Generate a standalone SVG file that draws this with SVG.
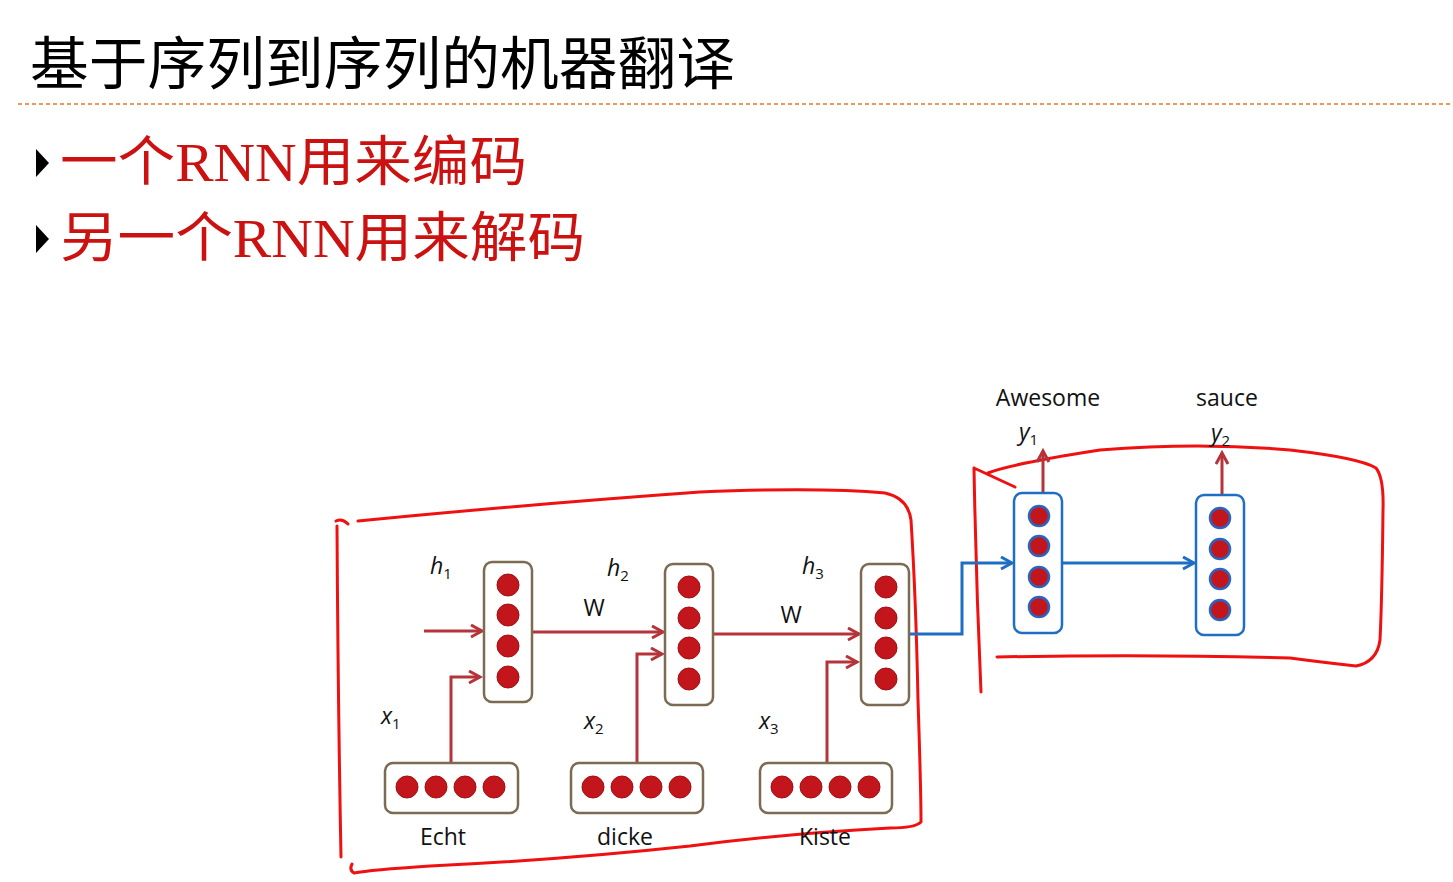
<svg xmlns="http://www.w3.org/2000/svg" width="1453" height="882" viewBox="0 0 1453 882">
<defs>
<style>
.title{font-family:"Noto Sans CJK SC","Noto Sans",sans-serif;font-size:57px;fill:#000}
.bul{font-family:"Liberation Serif","Noto Sans CJK SC",serif;font-size:54px;fill:#cc1111}
.lbl{font-family:"Open Sans","Lato",sans-serif;font-size:23px;fill:#111}
.it{font-family:"Open Sans","Lato",sans-serif;font-size:23px;font-style:italic;fill:#111}
.sub{font-size:15px;font-style:normal}
.hbox{fill:#fff;stroke:#7b6b52;stroke-width:2.5}
.dbox{fill:#fff;stroke:#1e6ec4;stroke-width:2.5}
.dot{fill:#c3161c;stroke:#a01014;stroke-width:1}
.ddot{fill:#c3161c;stroke:#2a64c0;stroke-width:2.5}
.ra{fill:none;stroke:#b5343a;stroke-width:3}
.ba{fill:none;stroke:#1e6ec4;stroke-width:3}
.pen{fill:none;stroke:#f01010;stroke-width:3;stroke-linecap:round;stroke-linejoin:round}
</style>
<marker id="mr" markerUnits="userSpaceOnUse" markerWidth="16" markerHeight="16" refX="12" refY="7" orient="auto">
<path d="M1,1 L12,7 L1,13" fill="none" stroke="#b5343a" stroke-width="3"/>
</marker>
<marker id="mb" markerUnits="userSpaceOnUse" markerWidth="16" markerHeight="16" refX="12" refY="7" orient="auto">
<path d="M1,1 L12,7 L1,13" fill="none" stroke="#1e6ec4" stroke-width="3"/>
</marker>
</defs>
<rect width="1453" height="882" fill="#fff"/>

<g id="header">
<text class="title" x="30" y="84" textLength="705" lengthAdjust="spacingAndGlyphs">基于序列到序列的机器翻译</text>
<line x1="18" y1="104" x2="1453" y2="104" stroke="#e07a2a" stroke-width="1.5" stroke-dasharray="4,3"/>
<path d="M36,149 L49,163 L36,177 Z" fill="#000"/>
<text class="bul" x="60" y="181" textLength="467" lengthAdjust="spacingAndGlyphs">一个RNN用来编码</text>
<path d="M36,225 L49,239 L36,253 Z" fill="#000"/>
<text class="bul" x="60" y="257" textLength="525" lengthAdjust="spacingAndGlyphs">另一个RNN用来解码</text>
</g>

<g id="pen-outlines">
<path class="pen" d="M336,521 Q342,518 348,524 M337,526 Q338,700 341,857"/>
<path class="pen" d="M358,521 Q520,505 700,492 Q820,487 885,493 Q908,498 911,520 Q916,600 918,700 Q921,790 921,822 Q915,828 890,828 Q780,834 690,846 Q560,860 430,866 Q370,870 354,873 Q349,870 352,864"/>
<path class="pen" d="M974,468 Q976,580 981,692 M974,468 L1015,487"/>
<path class="pen" d="M988,473 Q1010,464 1100,450 Q1200,442 1290,450 Q1360,458 1376,468 Q1384,478 1383,510 Q1382,600 1380,640 Q1377,662 1356,666 Q1320,662 1290,658 Q1150,654 997,657"/>
</g>

<g id="connectors">
<line class="ra" x1="424" y1="631" x2="482" y2="631" marker-end="url(#mr)"/>
<polyline class="ra" points="451,763 451,677 480,677" marker-end="url(#mr)"/>
<line class="ra" x1="532" y1="632" x2="663" y2="632" marker-end="url(#mr)"/>
<polyline class="ra" points="637,763 637,654 662,654" marker-end="url(#mr)"/>
<line class="ra" x1="713" y1="634" x2="859" y2="634" marker-end="url(#mr)"/>
<polyline class="ra" points="827,763 827,662 857,662" marker-end="url(#mr)"/>
<polyline class="ba" points="910,634 962,634 962,563 1012,563" marker-end="url(#mb)"/>
<line class="ba" x1="1063" y1="563" x2="1194" y2="563" marker-end="url(#mb)"/>
<line class="ra" x1="1043" y1="492" x2="1043" y2="451" marker-end="url(#mr)"/>
<line class="ra" x1="1222" y1="495" x2="1222" y2="453" marker-end="url(#mr)"/>
</g>

<g id="h1">
<rect class="hbox" x="484" y="562" width="48" height="140" rx="8"/>
<circle class="dot" cx="508" cy="585" r="11"/><circle class="dot" cx="508" cy="615" r="11"/><circle class="dot" cx="508" cy="646" r="11"/><circle class="dot" cx="508" cy="677" r="11"/>
<text class="it" x="430" y="574">h<tspan class="sub" dy="5">1</tspan></text>
</g>
<g id="h2">
<rect class="hbox" x="665" y="564" width="48" height="141" rx="8"/>
<circle class="dot" cx="689" cy="587" r="11"/><circle class="dot" cx="689" cy="618" r="11"/><circle class="dot" cx="689" cy="648" r="11"/><circle class="dot" cx="689" cy="679" r="11"/>
<text class="it" x="607" y="576">h<tspan class="sub" dy="5">2</tspan></text>
<text class="lbl" x="594" y="616" text-anchor="middle">W</text>
</g>
<g id="h3">
<rect class="hbox" x="861" y="564" width="48" height="141" rx="8"/>
<circle class="dot" cx="886" cy="587" r="11"/><circle class="dot" cx="886" cy="618" r="11"/><circle class="dot" cx="886" cy="648" r="11"/><circle class="dot" cx="886" cy="679" r="11"/>
<text class="it" x="802" y="574">h<tspan class="sub" dy="5">3</tspan></text>
<text class="lbl" x="791" y="623" text-anchor="middle">W</text>
</g>

<g id="x1">
<rect class="hbox" x="385" y="763" width="133" height="50" rx="8"/>
<circle class="dot" cx="407" cy="787" r="11"/><circle class="dot" cx="436" cy="787" r="11"/><circle class="dot" cx="465" cy="787" r="11"/><circle class="dot" cx="494" cy="787" r="11"/>
<text class="it" x="381" y="724">x<tspan class="sub" dy="5">1</tspan></text>
<text class="lbl" x="443" y="845" text-anchor="middle">Echt</text>
</g>
<g id="x2">
<rect class="hbox" x="571" y="763" width="132" height="50" rx="8"/>
<circle class="dot" cx="593" cy="787" r="11"/><circle class="dot" cx="622" cy="787" r="11"/><circle class="dot" cx="651" cy="787" r="11"/><circle class="dot" cx="680" cy="787" r="11"/>
<text class="it" x="584" y="729">x<tspan class="sub" dy="5">2</tspan></text>
<text class="lbl" x="625" y="845" text-anchor="middle">dicke</text>
</g>
<g id="x3">
<rect class="hbox" x="760" y="763" width="132" height="50" rx="8"/>
<circle class="dot" cx="782" cy="787" r="11"/><circle class="dot" cx="811" cy="787" r="11"/><circle class="dot" cx="840" cy="787" r="11"/><circle class="dot" cx="869" cy="787" r="11"/>
<text class="it" x="759" y="729">x<tspan class="sub" dy="5">3</tspan></text>
<text class="lbl" x="825" y="845" text-anchor="middle">Kiste</text>
</g>

<g id="y1">
<rect class="dbox" x="1014" y="493" width="48" height="140" rx="8"/>
<circle class="ddot" cx="1039" cy="516" r="10"/><circle class="ddot" cx="1039" cy="546" r="10"/><circle class="ddot" cx="1039" cy="577" r="10"/><circle class="ddot" cx="1039" cy="607" r="10"/>
<text class="it" x="1019" y="440">y<tspan class="sub" dy="5">1</tspan></text>
<text class="lbl" x="1048" y="406" text-anchor="middle">Awesome</text>
</g>
<g id="y2">
<rect class="dbox" x="1196" y="495" width="48" height="140" rx="8"/>
<circle class="ddot" cx="1220" cy="518" r="10"/><circle class="ddot" cx="1220" cy="549" r="10"/><circle class="ddot" cx="1220" cy="579" r="10"/><circle class="ddot" cx="1220" cy="610" r="10"/>
<text class="it" x="1211" y="441">y<tspan class="sub" dy="5">2</tspan></text>
<text class="lbl" x="1227" y="406" text-anchor="middle">sauce</text>
</g>
</svg>
